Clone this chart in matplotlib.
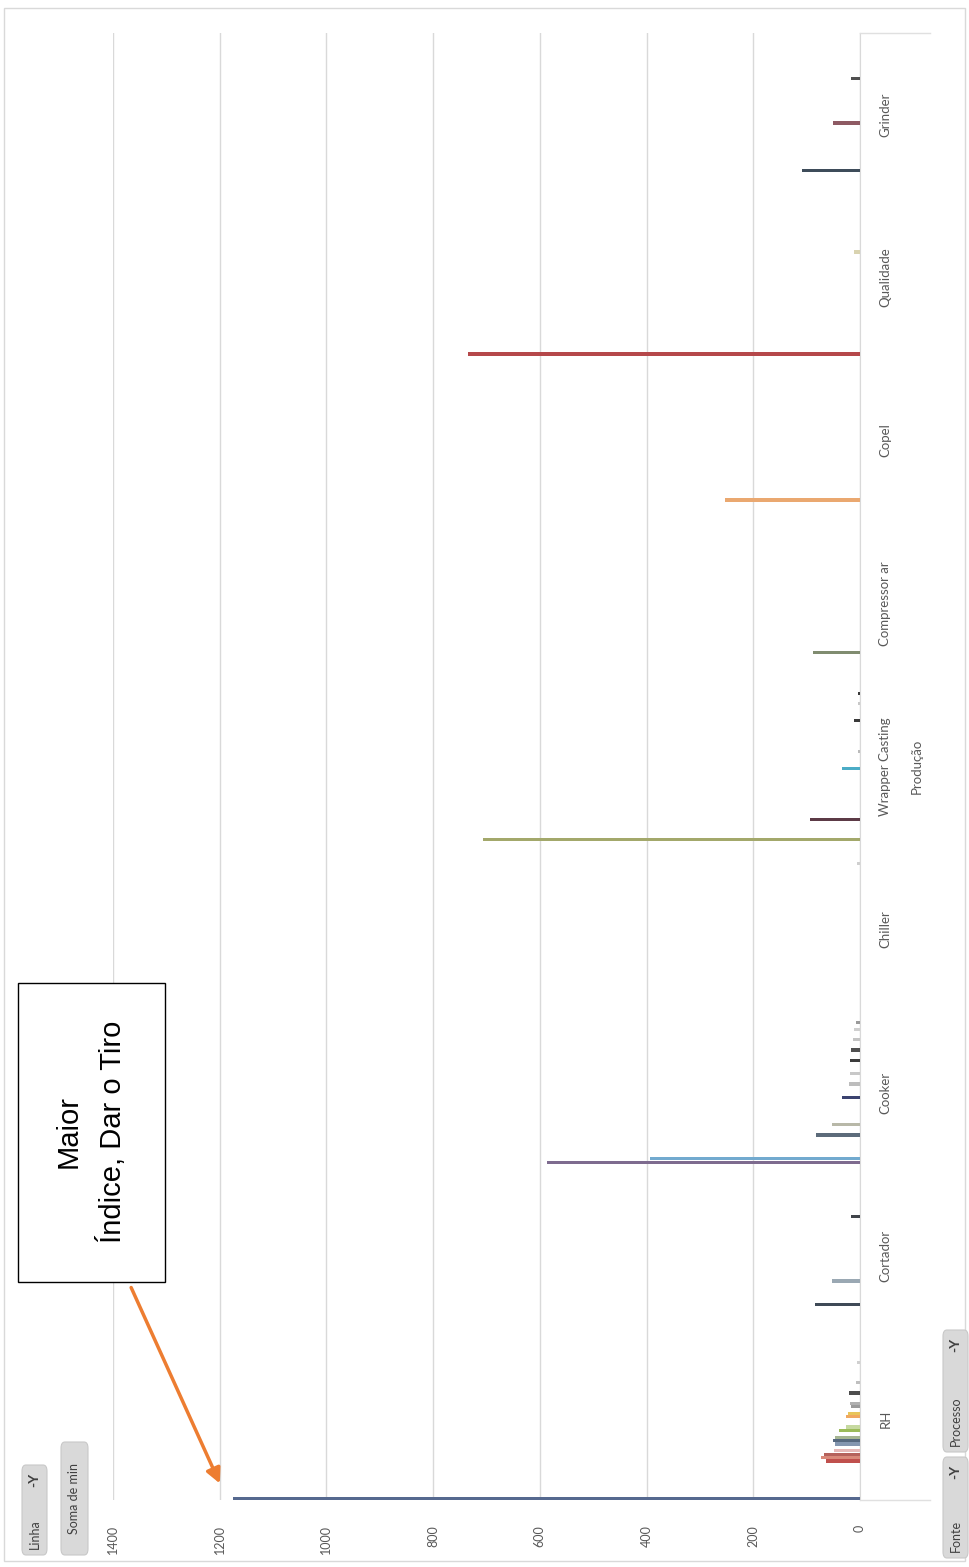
import matplotlib
matplotlib.use('Agg')
from matplotlib import pyplot as plt
from matplotlib.patches import Rectangle, FancyBboxPatch, FancyArrowPatch

# Processos (eixo de categorias) e minutos parados por fonte
processos = ['RH', 'Cortador', 'Cooker', 'Chiller', 'Wrapper Casting',
             'Compressor ar', 'Copel', 'Qualidade', 'Grinder']
valores_eixo = [0, 200, 400, 600, 800, 1000, 1200, 1400]
n_fontes = 48

# cada barra: processo, posição da fonte no grupo, soma de min
barra_proc = [0, 0, 0, 0, 0, 0, 0, 0, 0, 0, 0, 0, 0, 0, 0, 0, 0,
              1, 1, 1,
              2, 2, 2, 2, 2, 2, 2, 2, 2, 2, 2, 2,
              3,
              4, 4, 4, 4, 4, 4, 4,
              5,
              6,
              7, 7,
              8, 8, 8]
barra_fonte = [0, 11, 12, 13, 14, 16, 17, 18, 20, 21, 24, 25, 27, 28, 31, 34, 40,
               9, 16, 35,
               3, 4, 11, 14, 22, 26, 29, 33, 36, 39, 42, 44,
               43,
               2, 8, 23, 28, 37, 42, 45,
               9,
               6,
               1, 31,
               7, 21, 34]
barra_min = [1176, 64, 74, 68, 48, 47, 50, 46, 40, 27, 26, 22, 16, 18, 20, 8, 5,
             84, 52, 17,
             587, 394, 82, 52, 33, 21, 19, 18, 17, 13, 12, 8,
             5,
             707, 93, 33, 3, 12, 4, 4,
             88,
             253,
             735, 12,
             108, 50, 17]
barra_cor = ['#56698F', '#C0504D', '#D9897A', '#B5625C', '#E6B9B8', '#8497B0',
             '#56697F', '#A5B592', '#9BBB59', '#C6D9A0', '#F0A860', '#E8C55A',
             '#9A9A9A', '#B0B0B0', '#4D4D4D', '#BFBFBF', '#D0D0D0',
             '#3F4A57', '#9AA8B3', '#40444A',
             '#7E6B8F', '#72AACF', '#5C6B7A', '#B8B8A8', '#3B4370', '#BDBDBD',
             '#C8C8C8', '#3C3C3C', '#505050', '#C4C4C4', '#CFCFCF', '#9A9A9A',
             '#CFCFCF',
             '#A3A86B', '#5C3A46', '#4BACC6', '#BBBBBB', '#3A3A3A', '#C8C8C8', '#3A3A3A',
             '#808C70',
             '#EAA870',
             '#B5484A', '#D9D3B0',
             '#3E4C5A', '#8E5A63', '#505050']

plt.rcParams['font.family'] = ['Lato', 'DejaVu Sans']

W, H = 969, 1567
fig = plt.figure(figsize=(W / 100, H / 100), dpi=100)
fig.patch.set_facecolor('white')

x0, x1, y0, y1 = 113, 860, 33, 1500
ax = fig.add_axes([x0 / W, 1 - y1 / H, (x1 - x0) / W, (y1 - y0) / H])

posicoes = [p + (f + 0.5) / n_fontes for p, f in zip(barra_proc, barra_fonte)]
ax.barh(posicoes, barra_min, height=0.95 / n_fontes, color=barra_cor, zorder=3)

ax.set_xlim(1400, 0)
ax.set_ylim(0, len(processos))
ax.set_xticks(valores_eixo)
ax.set_xticklabels([str(v) for v in valores_eixo], rotation=90,
                   fontsize=9, color='#595959')
ax.tick_params(axis='x', length=0, pad=18)
ax.grid(axis='x', color='#D9D9D9', lw=1, zorder=0)

ax.yaxis.tick_right()
ax.set_yticks([i + 0.5 for i in range(len(processos))])
ax.set_yticklabels(processos, rotation=90, va='center', fontsize=9.5, color='#595959')
ax.tick_params(axis='y', length=0, pad=14)
ax.yaxis.set_label_position('right')
ax.set_ylabel('Produção', rotation=90, fontsize=9.5, color='#595959', labelpad=14)

for lado in ['left', 'top', 'bottom']:
    ax.spines[lado].set_visible(False)
ax.spines['right'].set_color('#D9D9D9')

# traços de divisa nas pontas do eixo de categorias
for yy in [y0, y1]:
    fig.add_artist(plt.Line2D([x1 / W, 930 / W], [1 - yy / H, 1 - yy / H],
                              color='#E0E0E0', lw=1))

# moldura do gráfico
fig.add_artist(Rectangle((4 / W, 6 / H), 961 / W, 1553 / H, fill=False,
                         edgecolor='#D9D9D9', lw=1, transform=fig.transFigure))


def botao(xa, ya, xb, yb, texto, icone=True):
    caixa = FancyBboxPatch((xa / W, 1 - yb / H), (xb - xa) / W, (yb - ya) / H,
                           boxstyle='round,pad=0,rounding_size=0.004',
                           facecolor='#D9D9D9', edgecolor='#C8C8C8', lw=0.8,
                           transform=fig.transFigure)
    fig.add_artist(caixa)
    xc = (xa + xb) / 2 / W
    if icone:
        fig.text(xc, 1 - (yb - 6) / H, texto, rotation=90, ha='center', va='bottom',
                 fontsize=9, color='#404040')
        fig.text(xc, 1 - (ya + 8) / H, '-Y', rotation=90, ha='center', va='top',
                 fontsize=10, fontweight='bold', color='#404040')
    else:
        fig.text(xc, 1 - (ya + yb) / 2 / H, texto, rotation=90, ha='center',
                 va='center', fontsize=9, color='#404040')


botao(22, 1465, 47, 1555, 'Linha')
botao(61, 1442, 88, 1555, 'Soma de min', icone=False)
botao(943, 1457, 968, 1558, 'Fonte')
botao(943, 1330, 968, 1452, 'Processo')

# caixa de destaque com seta
fig.add_artist(Rectangle((18 / W, 1 - 1282 / H), 147 / W, 299 / H, fill=True,
                         facecolor='white', edgecolor='black', lw=1,
                         transform=fig.transFigure, zorder=5))
fig.text(91 / W, 1 - 1132 / H, 'Maior\nÍndice, Dar o Tiro', rotation=90,
         ha='center', va='center', multialignment='center', linespacing=1.6,
         fontsize=21, family=['Liberation Sans', 'DejaVu Sans'], zorder=6)
fig.add_artist(FancyArrowPatch((130 / W, 1 - 1285 / H), (221 / W, 1 - 1486 / H),
                               transform=fig.transFigure, arrowstyle='-|>',
                               mutation_scale=22, lw=2.5, color='#ED7D31', zorder=6))

plt.savefig('out.png', dpi=100)
